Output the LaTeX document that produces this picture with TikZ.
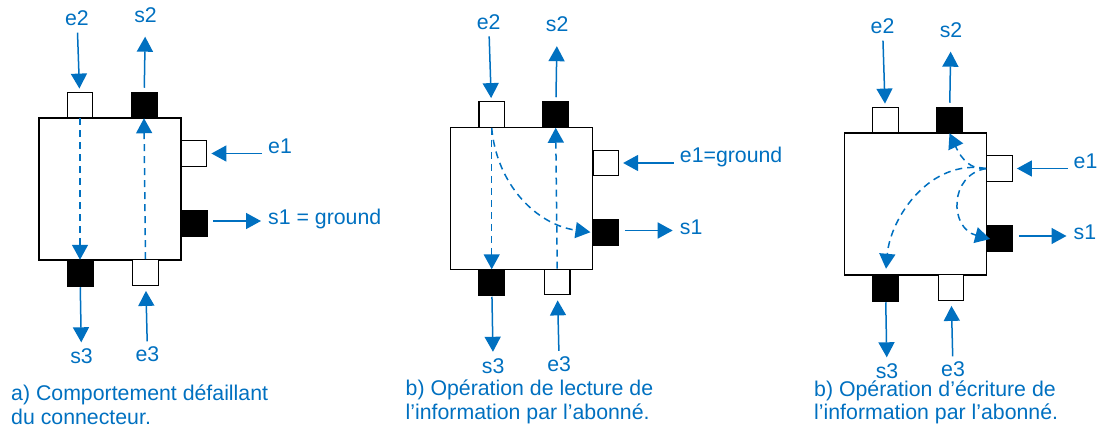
\documentclass[tikz,border=0pt]{standalone}
\usepackage{fontspec}
\setmainfont{Liberation Sans}
\usetikzlibrary{arrows.meta}
\definecolor{linkblue}{HTML}{0070C0}
\tikzset{
    box/.style={draw, line width=1.5pt, minimum width=142pt, minimum height=141.5pt, inner sep=0pt},
    inport/.style={draw, fill=white, line width=1.3pt, minimum size=25.5pt, inner sep=0pt},
    outport/.style={draw, fill=black, line width=0.5pt, minimum size=26pt, inner sep=0pt},
    pinlabel/.style={text=linkblue, font=\fontsize{21.3}{24}\selectfont, text height=15pt, text depth=0pt, inner sep=1pt},
    caption/.style={text=linkblue, font=\fontsize{21.3}{23.3}\selectfont, align=left, anchor=north west, inner sep=0pt},
    flow/.style={draw=linkblue, line width=1.5pt, -{Triangle[width=16pt,length=15pt]}},
    dashflow/.style={flow, dash pattern=on 7pt off 5pt}
}
\begin{document}
\begin{tikzpicture}[x=1pt, y=-1pt]
    \useasboundingbox (0,0) rectangle (1098,425);
    % the same connector three times
    \foreach \p/\dx/\dy/\ey/\etext/\stext in {a/0/0/18/e1/s1 = ground, b/411.7/9.5/12.2/e1=ground/s1, c/805.5/15/11/e1/s1} {
        \begin{scope}[shift={(\dx,\dy)}, name prefix=\p-]
            \node[box] (conn) at (110,189) {};
            \node[inport] (pe2) at (80,105) {};
            \node[outport] (ps2) at (144,105) {};
            \node[inport] (pe1) at (194,153.5) {};
            \node[outport] (ps1) at (194,223) {};
            \node[outport] (ps3) at (80,273) {};
            \node[inport] (pe3) at (145.5,272.5) {};
            \node[pinlabel] (e2) at (77,\ey) {e2};
            \node[pinlabel] (s2) at (145.5,15) {s2};
            \node[pinlabel] (s3) at (81.5,356) {s3};
            \node[pinlabel] (e3) at (147.5,354) {e3};
            \node[pinlabel, anchor=west] (e1) at (267,146) {\etext};
            \node[pinlabel, anchor=west] (s1) at (267,217) {\stext};
            \draw[flow, shorten <=6pt, shorten >=3pt] (e2) -- (pe2);
            \draw[flow, shorten <=4pt, shorten >=13pt] (ps2) -- (s2);
            \draw[flow, shorten <=1pt, shorten >=5pt] (ps3) -- (s3);
            \draw[flow, shorten <=4pt, shorten >=5pt] (e3) -- (pe3);
            \draw[flow, shorten <=5pt, shorten >=4pt] (e1.west |- pe1) -- (pe1);
            \draw[flow, shorten <=6pt, shorten >=6pt] ([yshift=2pt]ps1.east) -- ([yshift=2pt]ps1.east -| s1.west);
        \end{scope}
    }
    % paths inside the connector
    \draw[dashflow] (a-pe2.south) -- (a-ps3.north);
    \draw[dashflow] (a-pe3.north) -- (a-ps2.south);
    \draw[dashflow] (b-pe2.south) -- (b-ps3.north);
    \draw[dashflow] (b-pe3.north) -- (b-ps2.south);
    \draw[dashflow, shorten >=2pt] (b-pe2.south) to[out=-85, in=172] (b-ps1.west);
    \draw[dashflow] (c-pe1.west) to[out=185, in=-65] (c-ps2.south);
    \draw[dashflow, shorten >=6pt] (c-pe1.west) to[out=170, in=85] (c-ps3.north);
    \draw[dashflow, shorten >=-4pt] (c-pe1.west) to[out=190, in=165, looseness=1.4] (c-ps1.west);
    \node[caption] (capa) at (11,385) {a) Comportement défaillant\\du connecteur.};
    \node[caption] (capb) at (405.5,380) {b) Opération de lecture de\\l’information par l’abonné.};
    \node[caption] (capc) at (814,380.5) {b) Opération d’écriture de\\l’information par l’abonné.};
\end{tikzpicture}
\end{document}
